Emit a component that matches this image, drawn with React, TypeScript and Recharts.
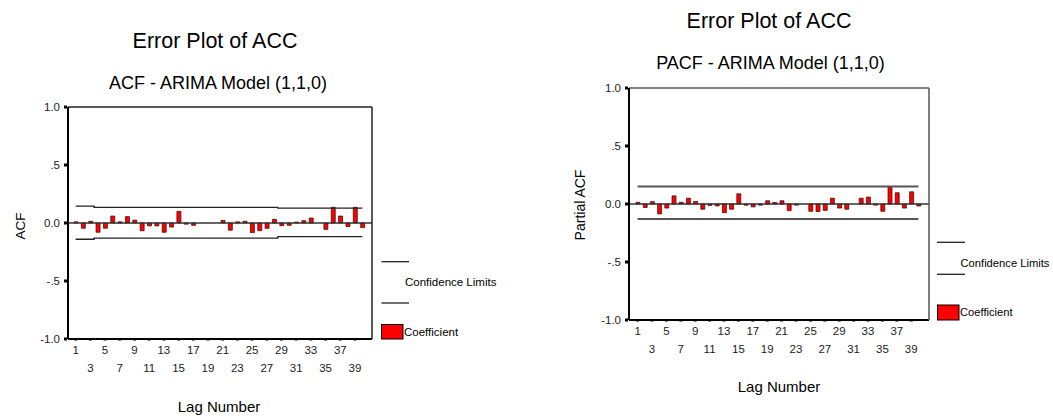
import React from 'react';
import { ComposedChart, Bar, Line, XAxis, YAxis, ReferenceLine } from 'recharts';

const FONT = "'Liberation Sans', Arial, sans-serif";

const LAGS = [1, 2, 3, 4, 5, 6, 7, 8, 9, 10, 11, 12, 13, 14, 15, 16, 17, 18, 19, 20,
  21, 22, 23, 24, 25, 26, 27, 28, 29, 30, 31, 32, 33, 34, 35, 36, 37, 38, 39, 40];

const ACF_COEF = [0.01, -0.045, 0.015, -0.08, -0.045, 0.06, 0.01, 0.055, 0.025, -0.067,
  -0.025, -0.025, -0.08, -0.035, 0.1, -0.01, -0.02, 0, 0, 0,
  0.022, -0.062, 0.01, 0.015, -0.083, -0.066, -0.046, 0.032, -0.023, -0.02,
  0.008, 0.02, 0.043, 0, -0.055, 0.135, 0.06, -0.03, 0.135, -0.04];

const ACF_UPPER = [0.145, 0.145, 0.145, 0.135, 0.135, 0.135, 0.135, 0.135, 0.135, 0.135,
  0.135, 0.135, 0.135, 0.135, 0.135, 0.135, 0.135, 0.135, 0.135, 0.135,
  0.135, 0.135, 0.135, 0.135, 0.135, 0.135, 0.135, 0.135, 0.128, 0.128,
  0.128, 0.128, 0.128, 0.128, 0.128, 0.128, 0.128, 0.128, 0.128, 0.128];

const ACF_LOWER = [-0.14, -0.14, -0.14, -0.13, -0.13, -0.13, -0.13, -0.13, -0.13, -0.13,
  -0.13, -0.13, -0.13, -0.13, -0.13, -0.13, -0.13, -0.13, -0.13, -0.13,
  -0.13, -0.13, -0.13, -0.13, -0.13, -0.13, -0.13, -0.13, -0.117, -0.117,
  -0.117, -0.117, -0.117, -0.117, -0.117, -0.117, -0.117, -0.117, -0.117, -0.117];

const PACF_COEF = [0.015, -0.03, 0.02, -0.085, -0.035, 0.07, 0.015, 0.05, 0.022, -0.045,
  -0.012, -0.017, -0.075, -0.045, 0.088, -0.01, -0.025, -0.01, 0.028, 0.013,
  0.028, -0.057, -0.01, 0, -0.063, -0.065, -0.055, 0.05, -0.035, -0.045,
  0, 0.05, 0.06, -0.01, -0.063, 0.148, 0.097, -0.035, 0.105, -0.017];

const PACF_UPPER = 0.15;
const PACF_LOWER = -0.13;

const Y_TICKS = [-1, -0.5, 0, 0.5, 1];
const Y_TICK_LABELS = ['-1.0', '-.5', '0.0', '.5', '1.0'];

const acfData = LAGS.map((lag, i) => ({ lag, coef: ACF_COEF[i], upper: ACF_UPPER[i], lower: ACF_LOWER[i] }));
const pacfData = LAGS.map((lag, i) => ({ lag, coef: PACF_COEF[i], upper: PACF_UPPER, lower: PACF_LOWER }));

const LagTick = ({ x, y, payload, row1, row2 }: any) => {
  const lag = payload.value;
  const second = (lag - 1) % 4 === 2;
  return (
    <g>
      <rect x={x - 1.5} y={y - 1} width={3} height={2.5} fill="#000" />
      <text x={x} y={y + (second ? row2 : row1)} textAnchor="middle" fontSize={11.5} fill="#222" fontFamily={FONT}>
        {lag}
      </text>
    </g>
  );
};

const YTick = ({ x, y, payload }: any) => (
  <g>
    <rect x={x + 4} y={y - 1.5} width={3} height={3} fill="#000" />
    <text x={x} y={y + 4} textAnchor="end" fontSize={11.5} fill="#222" fontFamily={FONT}>
      {Y_TICK_LABELS[Y_TICKS.indexOf(payload.value)]}
    </text>
  </g>
);

interface PanelProps {
  data: any[];
  left: number;
  width: number;
  margin: { top: number; right: number; bottom: number; left: number };
  pad: { left: number; right: number };
  limitColor: string;
  limitWidth: number;
  limitType: 'step' | 'linear';
  frameColor: string;
  row1: number;
  row2: number;
}

const Panel = ({ data, left, width, margin, pad, limitColor, limitWidth, limitType, frameColor, row1, row2 }: PanelProps) => (
  <div style={{ position: 'absolute', left, top: 0 }}>
    <ComposedChart width={width} height={416} data={data} margin={margin} barCategoryGap={0}>
      <XAxis
        dataKey="lag"
        height={1}
        padding={pad}
        interval={1}
        axisLine
        stroke="#000"
        strokeWidth={2}
        tickLine={false}
        tickSize={0}
        tickMargin={0}
        tick={<LagTick row1={row1} row2={row2} />}
      />
      <XAxis xAxisId="top" dataKey="lag" orientation="top" height={1} tick={false} tickLine={false} axisLine stroke={frameColor} strokeWidth={1.5} />
      <YAxis
        type="number"
        domain={[-1, 1]}
        ticks={Y_TICKS}
        width={60}
        axisLine
        stroke="#000"
        strokeWidth={2}
        tickLine={false}
        tickSize={0}
        tickMargin={8}
        tick={<YTick />}
      />
      <YAxis yAxisId="right" orientation="right" type="number" domain={[-1, 1]} width={1} tick={false} tickLine={false} axisLine stroke={frameColor} strokeWidth={1.5} />
      <ReferenceLine y={0} stroke="#333" strokeWidth={1.5} />
      <Bar dataKey="coef" barSize={4} fill="#FF0000" stroke="#300" strokeWidth={0.7} isAnimationActive={false} />
      <Line dataKey="upper" type={limitType} stroke={limitColor} strokeWidth={limitWidth} dot={false} activeDot={false} isAnimationActive={false} />
      <Line dataKey="lower" type={limitType} stroke={limitColor} strokeWidth={limitWidth} dot={false} activeDot={false} isAnimationActive={false} />
    </ComposedChart>
  </div>
);

const txt = { fontFamily: FONT, fill: '#000' };

export default function App() {
  return (
    <div style={{ position: 'absolute', left: 0, top: 0, width: 1053, height: 416, background: '#fff', fontFamily: FONT }}>
      <Panel
        data={acfData}
        left={0}
        width={380}
        margin={{ top: 106, right: 7, bottom: 76, left: 8 }}
        pad={{ left: 4, right: 6 }}
        limitColor="#222"
        limitWidth={1.3}
        limitType="step"
        frameColor="#222"
        row1={15}
        row2={33}
      />
      <Panel
        data={pacfData}
        left={560}
        width={380}
        margin={{ top: 87, right: 10, bottom: 95, left: 9 }}
        pad={{ left: 5, right: 7 }}
        limitColor="#555"
        limitWidth={2}
        limitType="linear"
        frameColor="#555"
        row1={15}
        row2={33}
      />
      <svg width={1053} height={416} style={{ position: 'absolute', left: 0, top: 0, pointerEvents: 'none' }}>
        {/* left panel texts */}
        <text x={215} y={48} textAnchor="middle" fontSize={21.5} {...txt}>Error Plot of ACC</text>
        <text x={218} y={89} textAnchor="middle" fontSize={18} {...txt}>ACF - ARIMA Model (1,1,0)</text>
        <text x={25} y={226} textAnchor="middle" fontSize={13.5} transform="rotate(-90, 25, 226)" {...txt}>ACF</text>
        <text x={219} y={412} textAnchor="middle" fontSize={15} {...txt}>Lag Number</text>
        <line x1={381.5} x2={409} y1={261.7} y2={261.7} stroke="#222" strokeWidth={1.3} />
        <line x1={381.5} x2={409} y1={303} y2={303} stroke="#222" strokeWidth={1.3} />
        <text x={405} y={286} fontSize={11.5} {...txt}>Confidence Limits</text>
        <rect x={381.5} y={324.5} width={21.5} height={14.5} fill="#FF0000" stroke="#000" strokeWidth={1} />
        <text x={404} y={336} fontSize={11.5} {...txt}>Coefficient</text>

        {/* right panel texts */}
        <text x={769} y={28} textAnchor="middle" fontSize={21.5} {...txt}>Error Plot of ACC</text>
        <text x={770.5} y={69} textAnchor="middle" fontSize={18} {...txt}>PACF - ARIMA Model (1,1,0)</text>
        <text x={585} y={205} textAnchor="middle" fontSize={14} transform="rotate(-90, 585, 205)" {...txt}>Partial ACF</text>
        <text x={779} y={392} textAnchor="middle" fontSize={15} {...txt}>Lag Number</text>
        <line x1={937} x2={965} y1={242.3} y2={242.3} stroke="#222" strokeWidth={1.3} />
        <line x1={937} x2={965} y1={274.3} y2={274.3} stroke="#222" strokeWidth={1.3} />
        <text x={960.5} y={266.5} fontSize={11.2} {...txt}>Confidence Limits</text>
        <rect x={937.5} y={305} width={21.5} height={15} fill="#FF0000" stroke="#000" strokeWidth={1} />
        <text x={960} y={316} fontSize={11.2} {...txt}>Coefficient</text>
      </svg>
    </div>
  );
}
